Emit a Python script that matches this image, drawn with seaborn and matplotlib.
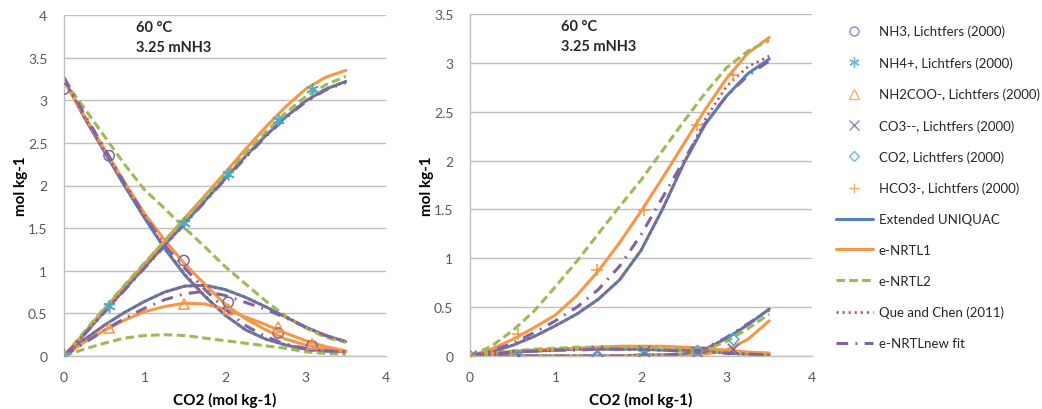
import matplotlib
matplotlib.use("Agg")
import matplotlib.pyplot as plt
import seaborn as sns
from matplotlib.lines import Line2D

# CO2 loading grid (mol kg-1) used for all model curves
loading = [0, 0.25, 0.5, 0.75, 1.0, 1.25, 1.5, 1.75, 2.0, 2.25, 2.5, 2.75, 3.0, 3.25, 3.5]

# ---- left panel: NH3, NH4+, NH2COO- ----
uq_nh3 = [3.25, 2.80, 2.40, 2.00, 1.62, 1.26, 0.95, 0.70, 0.48, 0.31, 0.20, 0.13, 0.08, 0.06, 0.05]
nrtl1_nh3 = [3.22, 2.82, 2.43, 2.04, 1.67, 1.36, 1.08, 0.84, 0.61, 0.44, 0.31, 0.20, 0.13, 0.08, 0.05]
nrtl2_nh3 = [3.23, 2.91, 2.58, 2.25, 1.95, 1.73, 1.50, 1.28, 1.05, 0.85, 0.65, 0.47, 0.33, 0.22, 0.16]
que_nh3 = [3.25, 2.81, 2.41, 2.01, 1.63, 1.27, 0.96, 0.71, 0.48, 0.31, 0.20, 0.13, 0.08, 0.06, 0.05]
new_nh3 = [3.27, 2.84, 2.44, 2.03, 1.65, 1.30, 1.03, 0.78, 0.55, 0.36, 0.23, 0.14, 0.09, 0.06, 0.05]

uq_nh4 = [0, 0.25, 0.52, 0.78, 1.04, 1.30, 1.56, 1.82, 2.08, 2.34, 2.58, 2.80, 2.99, 3.13, 3.22]
nrtl1_nh4 = [0, 0.27, 0.55, 0.82, 1.08, 1.35, 1.62, 1.88, 2.15, 2.42, 2.68, 2.92, 3.13, 3.27, 3.35]
nrtl2_nh4 = [0, 0.28, 0.56, 0.83, 1.09, 1.35, 1.60, 1.86, 2.12, 2.37, 2.62, 2.85, 3.04, 3.18, 3.28]
que_nh4 = [0, 0.25, 0.52, 0.78, 1.04, 1.30, 1.56, 1.82, 2.08, 2.33, 2.58, 2.80, 2.99, 3.13, 3.22]
new_nh4 = [0, 0.25, 0.51, 0.77, 1.03, 1.29, 1.55, 1.81, 2.07, 2.32, 2.57, 2.79, 2.98, 3.12, 3.21]

uq_carb = [0, 0.19, 0.36, 0.51, 0.64, 0.75, 0.82, 0.83, 0.78, 0.69, 0.58, 0.46, 0.34, 0.24, 0.17]
nrtl1_carb = [0, 0.16, 0.30, 0.42, 0.52, 0.58, 0.62, 0.61, 0.55, 0.46, 0.37, 0.27, 0.18, 0.11, 0.06]
nrtl2_carb = [0, 0.08, 0.15, 0.21, 0.24, 0.25, 0.24, 0.21, 0.18, 0.15, 0.12, 0.09, 0.05, 0.03, 0.02]
que_carb = [0, 0.19, 0.36, 0.51, 0.64, 0.75, 0.82, 0.83, 0.78, 0.69, 0.58, 0.46, 0.34, 0.24, 0.17]
new_carb = [0, 0.15, 0.30, 0.44, 0.56, 0.66, 0.73, 0.76, 0.71, 0.63, 0.55, 0.45, 0.34, 0.24, 0.17]

# ---- right panel: HCO3-, CO3--, CO2 ----
uq_hco3 = [0, 0.04, 0.11, 0.20, 0.31, 0.43, 0.58, 0.78, 1.08, 1.50, 1.97, 2.37, 2.66, 2.89, 3.04]
nrtl1_hco3 = [0, 0.07, 0.17, 0.29, 0.42, 0.62, 0.87, 1.16, 1.48, 1.82, 2.17, 2.52, 2.84, 3.10, 3.26]
nrtl2_hco3 = [0, 0.10, 0.26, 0.46, 0.71, 0.97, 1.25, 1.53, 1.80, 2.10, 2.40, 2.69, 2.95, 3.12, 3.23]
que_hco3 = [0, 0.04, 0.11, 0.20, 0.31, 0.43, 0.58, 0.78, 1.08, 1.50, 1.97, 2.42, 2.76, 2.96, 3.07]
new_hco3 = [0, 0.05, 0.13, 0.24, 0.36, 0.50, 0.68, 0.92, 1.24, 1.62, 2.00, 2.38, 2.66, 2.87, 3.02]

uq_co3 = [0, 0.02, 0.04, 0.05, 0.06, 0.07, 0.07, 0.07, 0.07, 0.06, 0.06, 0.05, 0.03, 0.02, 0.01]
nrtl1_co3 = [0, 0.03, 0.05, 0.06, 0.07, 0.08, 0.09, 0.10, 0.10, 0.10, 0.09, 0.08, 0.06, 0.04, 0.03]
nrtl2_co3 = [0, 0.03, 0.05, 0.07, 0.08, 0.09, 0.09, 0.09, 0.09, 0.08, 0.07, 0.05, 0.04, 0.02, 0.01]
que_co3 = [0, 0.02, 0.04, 0.05, 0.06, 0.07, 0.07, 0.07, 0.07, 0.06, 0.06, 0.05, 0.03, 0.02, 0.01]
new_co3 = [0, 0.02, 0.04, 0.05, 0.06, 0.06, 0.07, 0.07, 0.06, 0.06, 0.05, 0.04, 0.03, 0.02, 0.01]

uq_co2 = [0, 0, 0, 0, 0, 0, 0, 0, 0.01, 0.01, 0.02, 0.07, 0.18, 0.32, 0.48]
nrtl1_co2 = [0, 0, 0, 0, 0, 0, 0, 0, 0, 0, 0.01, 0.02, 0.06, 0.17, 0.36]
nrtl2_co2 = [0, 0, 0, 0, 0, 0, 0, 0, 0.01, 0.01, 0.02, 0.06, 0.15, 0.28, 0.43]
que_co2 = [0, 0, 0, 0, 0, 0, 0, 0, 0.01, 0.01, 0.02, 0.07, 0.18, 0.32, 0.48]
new_co2 = [0, 0, 0, 0, 0, 0, 0, 0, 0.01, 0.01, 0.02, 0.08, 0.19, 0.33, 0.47]

# ---- Lichtfers (2000) data ----
exp_x = [0, 0.56, 1.49, 2.04, 2.66, 3.08]
exp_nh3 = [3.13, 2.35, 1.12, 0.63, 0.27, 0.12]
exp_nh4 = [0.01, 0.59, 1.56, 2.13, 2.77, 3.13]
exp_carb = [0.0, 0.33, 0.61, 0.55, 0.34, 0.14]
exp_co3 = [0.0, 0.01, 0.05, 0.05, 0.04, 0.07]
exp_co2 = [0.0, 0.0, 0.0, 0.0, 0.05, 0.17]
exp_hco3 = [0.0, 0.23, 0.88, 1.49, 2.36, 2.88]

model_names = ["Extended UNIQUAC", "e-NRTL1", "e-NRTL2", "Que and Chen (2011)", "e-NRTLnew fit"]
exp_names = ["NH3, Lichtfers (2000)", "NH4+, Lichtfers (2000)", "NH2COO-, Lichtfers (2000)",
             "CO3--, Lichtfers (2000)", "CO2, Lichtfers (2000)", "HCO3-, Lichtfers (2000)"]

# Excel 2007 palette
BLUE, RED, GREEN, PURPLE, AQUA, ORANGE = "#4F81BD", "#C0504D", "#9BBB59", "#8064A2", "#4BACC6", "#F79646"
model_styles = [
    dict(color=BLUE, linestyle="-", linewidth=2.2),
    dict(color=ORANGE, linestyle="-", linewidth=2.2),
    dict(color=GREEN, linestyle=(0, (2.8, 1.4)), linewidth=2.2),
    dict(color=RED, linestyle=(0, (0.8, 1.5)), linewidth=1.9),
    dict(color=PURPLE, linestyle=(0, (3.8, 2.4, 0.6, 2.4)), linewidth=2.2),
]
# marker, colour, hollow?
exp_styles = [("o", PURPLE, True), ((6, 2, 0), AQUA, False), ("^", ORANGE, True),
              ("x", PURPLE, False), ("D", AQUA, True), ("+", ORANGE, False)]

sns.set_theme(style="white")
plt.rcParams["font.family"] = ["Lato", "DejaVu Sans"]

fig = plt.figure(figsize=(10.42, 4.1), dpi=100)
ax1 = fig.add_axes([64 / 1042, 53 / 410, 322 / 1042, 341 / 410])
ax2 = fig.add_axes([470 / 1042, 53 / 410, 342 / 1042, 342 / 410])


def draw_model(ax, y, style):
    sns.lineplot(x=loading, y=y, ax=ax, errorbar=None, legend=False, **style)


def draw_exp(ax, y, st):
    marker, color, hollow = st
    if hollow:
        size = 34 if marker == "D" else 55
        sns.scatterplot(x=exp_x, y=y, ax=ax, marker=marker, s=size, facecolors="none",
                        edgecolors=color, linewidths=1.1, zorder=5, legend=False)
    else:
        sns.scatterplot(x=exp_x, y=y, ax=ax, marker=marker, s=70, color=color,
                        linewidths=1.1, zorder=5, legend=False)


left_sets = [
    (uq_nh3, uq_nh4, uq_carb),
    (nrtl1_nh3, nrtl1_nh4, nrtl1_carb),
    (nrtl2_nh3, nrtl2_nh4, nrtl2_carb),
    (que_nh3, que_nh4, que_carb),
    (new_nh3, new_nh4, new_carb),
]
right_sets = [
    (uq_hco3, uq_co3, uq_co2),
    (nrtl1_hco3, nrtl1_co3, nrtl1_co2),
    (nrtl2_hco3, nrtl2_co3, nrtl2_co2),
    (que_hco3, que_co3, que_co2),
    (new_hco3, new_co3, new_co2),
]

for style, curves in zip(model_styles, left_sets):
    for y in curves:
        draw_model(ax1, y, style)
for style, curves in zip(model_styles, right_sets):
    for y in curves:
        draw_model(ax2, y, style)

draw_exp(ax1, exp_nh3, exp_styles[0])
draw_exp(ax1, exp_nh4, exp_styles[1])
draw_exp(ax1, exp_carb, exp_styles[2])
draw_exp(ax2, exp_co3, exp_styles[3])
draw_exp(ax2, exp_co2, exp_styles[4])
draw_exp(ax2, exp_hco3, exp_styles[5])

left_yticks = [0, 0.5, 1, 1.5, 2, 2.5, 3, 3.5, 4]
right_yticks = [0, 0.5, 1, 1.5, 2, 2.5, 3, 3.5]
xticks = [0, 1, 2, 3, 4]

for ax, yt, tx in [(ax1, left_yticks, 0.224), (ax2, right_yticks, 0.265)]:
    ax.set_xlim(0, 4)
    ax.set_ylim(0, yt[-1])
    ax.set_xticks(xticks)
    ax.set_xticklabels([f"{v:g}" for v in xticks])
    ax.set_yticks(yt)
    ax.set_yticklabels([f"{v:g}" for v in yt])
    ax.grid(axis="y", color="#BFBFBF", linewidth=1)
    ax.grid(axis="x", visible=False)
    ax.set_axisbelow(True)
    for side in ["top", "right"]:
        ax.spines[side].set_visible(False)
    for side in ["left", "bottom"]:
        ax.spines[side].set_color("#BFBFBF")
        ax.spines[side].set_linewidth(1)
    ax.tick_params(length=0, labelsize=10, colors="#595959")
    ax.tick_params(axis="x", pad=11)
    ax.tick_params(axis="y", pad=12)
    ax.set_xlabel("CO2 (mol kg-1)", fontsize=11, fontweight="bold", color="black", labelpad=6)
    ax.set_ylabel("mol kg-1", fontsize=11, fontweight="bold", color="black", labelpad=0)
    ax.text(tx, 0.966, "60 °C", transform=ax.transAxes, fontsize=10.5, fontweight="bold", va="center")
    ax.text(tx, 0.906, "3.25 mNH3", transform=ax.transAxes, fontsize=10.5, fontweight="bold", va="center")

# legend: experimental markers then model lines
handles = []
for marker, color, hollow in exp_styles:
    if hollow:
        handles.append(Line2D([], [], linestyle="none", marker=marker, markersize=6.5 if marker != "D" else 5,
                              markerfacecolor="none", markeredgecolor=color, markeredgewidth=1.0, alpha=0.8))
    else:
        handles.append(Line2D([], [], linestyle="none", marker=marker, markersize=7.5, color=color,
                              markeredgewidth=1.0, alpha=0.8))
for st in model_styles:
    handles.append(Line2D([], [], **st))

fig.legend(handles, exp_names + model_names, loc="center left", bbox_to_anchor=(836 / 1042, 1 - 188 / 410),
           frameon=False, fontsize=9.5, handlelength=2.8, handletextpad=0.45, labelspacing=1.43,
           borderpad=0, borderaxespad=0)

fig.savefig("out.png", dpi=100)
